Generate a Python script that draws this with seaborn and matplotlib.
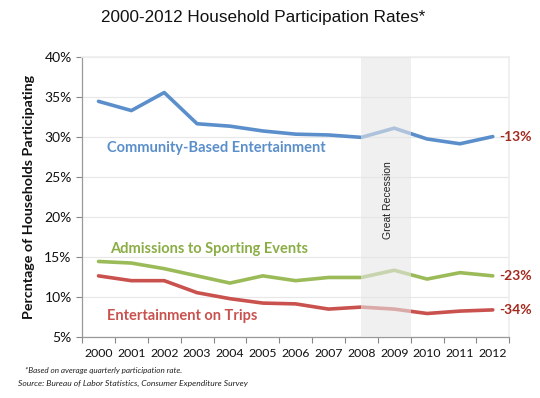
import numpy as np
import pandas as pd
import matplotlib.pyplot as plt
import seaborn as sns
from matplotlib.ticker import FixedLocator, PercentFormatter

# ---- data ----
years = [str(y) for y in range(2000, 2013)]
community = [34.4, 33.25, 35.5, 31.6, 31.3, 30.7, 30.3, 30.2, 29.9, 31.05, 29.7, 29.1, 30.0]
sporting = [14.4, 14.2, 13.5, 12.6, 11.7, 12.6, 12.0, 12.4, 12.4, 13.3, 12.2, 13.0, 12.6]
trips = [12.6, 12.0, 12.0, 10.5, 9.75, 9.2, 9.1, 8.45, 8.7, 8.45, 7.9, 8.2, 8.35]
series_names = ["Community-Based Entertainment", "Admissions to Sporting Events",
                "Entertainment on Trips"]
changes = ["-13%", "-23%", "-34%"]
colors = ["#5b8fcb", "#9bbb59", "#c9524e"]

df = pd.DataFrame({
    "idx": list(range(len(years))) * 3,
    "value": community + sporting + trips,
    "series": [n for n in series_names for _ in years],
})

sns.set_theme(style="white")
plt.rcParams["font.family"] = ["Lato", "DejaVu Sans"]

fig = plt.figure(figsize=(5.4, 3.98), dpi=100)
ax = fig.add_axes([0.152, 0.154, 0.791, 0.704])

sns.lineplot(data=df, x="idx", y="value", hue="series", palette=colors,
             linewidth=2.6, legend=False, ax=ax, zorder=3)

# recession band drawn over the lines, so they fade through it
ax.axvspan(8, 9.5, color="#e6e6e6", alpha=0.6, zorder=4, lw=0)
ax.text(8.8, 22, "Great Recession", rotation=90, ha="center", va="center",
        fontsize=7.5, color="#222222", family=["Liberation Sans"], zorder=5)

ax.set_xlim(-0.5, 12.5)
ax.set_ylim(5, 40)
ax.yaxis.set_major_locator(FixedLocator(np.arange(5, 41, 5)))
ax.yaxis.set_major_formatter(PercentFormatter(decimals=0))
ax.set_xticks(range(len(years)))
ax.set_xticklabels(years)
ax.xaxis.set_minor_locator(FixedLocator(np.arange(-0.5, 13, 1)))
ax.tick_params(axis="x", which="major", length=0, labelsize=8.8, pad=8, colors="#111111")
ax.tick_params(axis="x", which="minor", length=4, color="#888888", width=0.8, bottom=True)
ax.tick_params(axis="y", length=4, color="#888888", width=0.8, left=True,
               labelsize=10, colors="#111111")
ax.grid(axis="y", color="#e8e8e8", linewidth=0.9, zorder=0)
ax.set_xlabel("")
ax.set_ylabel("Percntage of Households Participating", fontsize=10.3,
              fontweight="bold", color="#111111", labelpad=7)

for side in ["top", "right"]:
    ax.spines[side].set_color("#eeeeee")
for side in ["left", "bottom"]:
    ax.spines[side].set_color("#999999")
    ax.spines[side].set_linewidth(0.9)

# series labels
ax.text(0.25, 28.6, series_names[0], color=colors[0], fontsize=10.5, fontweight="bold", va="center")
ax.text(0.35, 16.0, series_names[1], color="#8aad45", fontsize=10.5, fontweight="bold", va="center")
ax.text(0.25, 7.6, series_names[2], color=colors[2], fontsize=10.5, fontweight="bold", va="center")

# percent change labels
for vals, lab in zip([community, sporting, trips], changes):
    ax.text(12.2, vals[-1], lab, color="#a3291c", fontsize=10, fontweight="bold",
            va="center", ha="left", clip_on=False)

fig.suptitle("2000-2012 Household Participation Rates*", x=0.488, y=0.975,
             fontsize=12.3, family=["Liberation Sans"], color="#111111")

fig.text(0.046, 0.063, "*Based on average quarterly participation rate.",
         fontsize=5.9, style="italic", color="#222222")
fig.text(0.034, 0.031, "Source: Bureau of Labor Statistics, Consumer Expenditure Survey",
         fontsize=6.1, style="italic", color="#222222")

fig.savefig("out.png", dpi=100)
